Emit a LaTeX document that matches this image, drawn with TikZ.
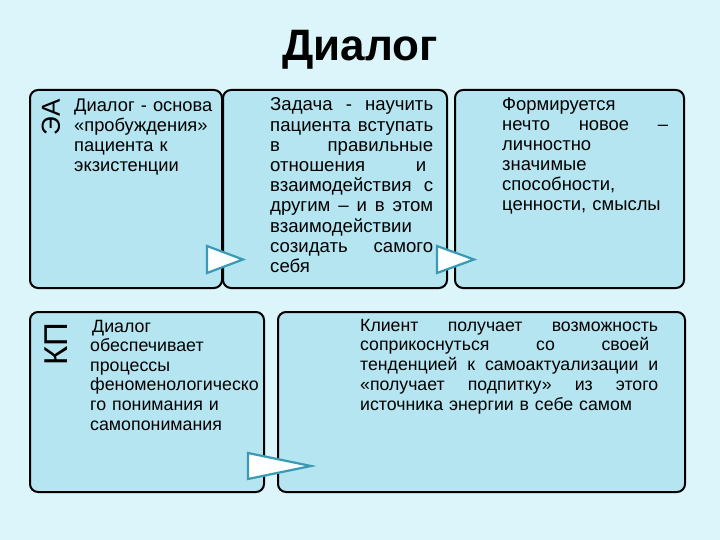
\documentclass[tikz,border=0pt]{standalone}
\usepackage{fontspec}
\setmainfont{Liberation Sans}
\definecolor{bgc}{HTML}{DCF5FA}
\definecolor{boxc}{HTML}{B4E5F1}
\definecolor{arrc}{HTML}{3A9AB3}
\newlength\jw
\newcommand\jline[2][0pt]{\leavevmode\hbox to \dimexpr\jw-#1\relax{\spaceskip=0.28em plus 3em\relax #2}\\}
\begin{document}
\begin{tikzpicture}[x=1pt,y=-1pt,
  panel/.style={draw=black, line width=2pt, fill=boxc, rounded corners=8pt, inner sep=0pt},
  txt/.style={anchor=base west, inner sep=0pt, align=left},
  side/.style={anchor=center, inner sep=0pt, rotate=90},
  tri/.style={draw=arrc, line width=2.2pt, left color=white, right color=white!70!bgc, line join=miter}
]
\fill[bgc] (0,0) rectangle (720,540);
\useasboundingbox (0,0) rectangle (720,540);

\node[font=\fontsize{44}{48}\selectfont\bfseries, anchor=base] (title) at (360,61) {Диалог};

% top row
\node[panel, minimum width=192pt, minimum height=198pt] (b1) at (126,189) {};
\node[panel, minimum width=224pt, minimum height=198pt] (b2) at (335,189) {};
\node[panel, minimum width=229pt, minimum height=198pt] (b3) at (569.5,189) {};
% bottom row
\node[panel, minimum width=234pt, minimum height=180pt] (b4) at (147,402) {};
\node[panel, minimum width=407pt, minimum height=180pt] (b5) at (481.5,402) {};

% arrows
\fill[tri] (207,246) -- (243,259.5) -- (207,273) -- cycle;
\fill[tri] (437,246) -- (474,259.5) -- (437,273) -- cycle;
\fill[tri] (248,453) -- (311,466) -- (248,479) -- cycle;

% side labels
\node[side, font=\fontsize{26}{28}\selectfont] (ea) at (51,117) {ЭА};
\node[side, font=\fontsize{33}{36}\selectfont] (kp) at (56,344) {КП};

% texts
\node[txt, text width=150pt, font=\fontsize{18.3}{19.8}\selectfont] (t1) at (74,112) {Диалог - основа\\«пробуждения»\\пациента к\\экзистенции};
\node[txt, text width=170pt, font=\fontsize{18.6}{20.2}\selectfont] (t2) at (270,111) {\setlength\jw{163pt}\jline{Задача - научить}\jline{пациента вступать}\jline{в правильные}\jline[7pt]{отношения и}\jline{взаимодействия с}\jline{другим – и в этом}взаимодействии\\\jline{созидать самого}себя};
\node[txt, text width=170pt, font=\fontsize{18.4}{19.9}\selectfont] (t3) at (502,111) {\setlength\jw{166pt}Формируется\\\jline{нечто новое –}личностно\\значимые\\способности,\\ценности, смыслы};
\node[txt, text width=175pt, font=\fontsize{17.8}{19.6}\selectfont] (t4) at (90,332) {\hspace{2pt}Диалог\\обеспечивает\\процессы\\феноменологическо\\го понимания и\\самопонимания};
\node[txt, text width=300pt, font=\fontsize{17.7}{19.75}\selectfont] (t5) at (360,331) {\setlength\jw{298pt}\jline{Клиент получает возможность}\jline[9pt]{соприкоснуться со своей}\jline{тенденцией к самоактуализации и}\jline{«получает подпитку» из этого}источника энергии в себе самом};
\end{tikzpicture}
\end{document}
